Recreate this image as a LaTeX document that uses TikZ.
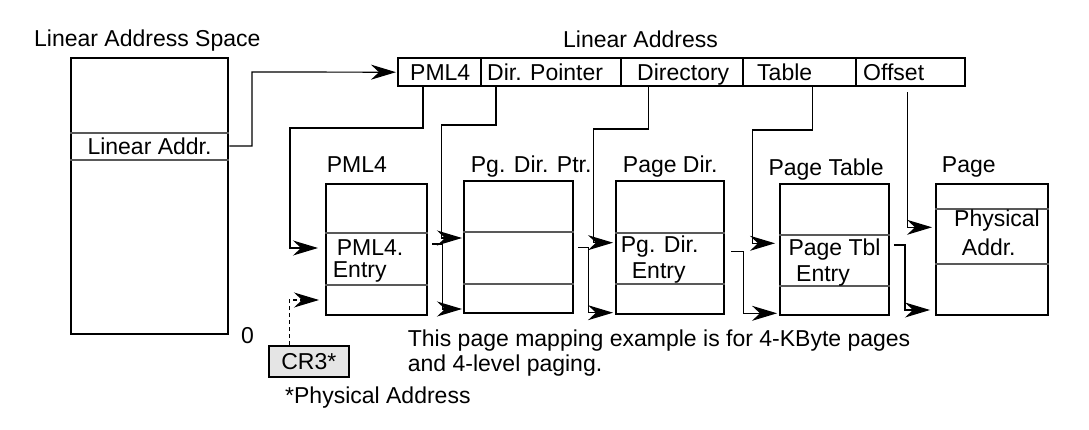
\documentclass[tikz,border=0pt]{standalone}
\usepackage{fontspec}
\setmainfont{Liberation Sans}
\usetikzlibrary{arrows.meta}
\newcommand{\tblstripe}[2]{\draw[stripe] ([yshift=-#2pt]#1.north west) -- ([yshift=-#2pt]#1.north east);}
\begin{document}
\begin{tikzpicture}[x=1pt,y=-1pt,
  txt/.style={font=\fontsize{23}{27}\selectfont, inner sep=0, anchor=base west},
  tbl/.style={draw, line width=2.4pt, inner sep=0, anchor=north west},
  stripe/.style={line width=1.5pt, draw=black!65},
  conn/.style={line width=1.2pt},
  arr/.style={conn, -{Stealth[length=25pt,width=15pt,inset=8pt]}, shorten >=3pt},
]
\path[use as bounding box] (0,0) rectangle (1089,430);

% Linear address space
\node[tbl, minimum width=157pt, minimum height=276pt] (las) at (70,57) {};
\node[txt] (lastitle) at (34,47) {Linear Address Space};
\tblstripe{las}{76}
\tblstripe{las}{103}
\node[txt] (laddr) at (87.3,155) {Linear Addr.};
\node[txt] (zero) at (241,343) {0};

% Linear address bar
\node[txt] (bartitle) at (563,48) {Linear Address};
\node[tbl, minimum width=83pt, minimum height=28pt] (f1) at (397,57) {};
\node[tbl, minimum width=140pt, minimum height=28pt] (f2) at (480,57) {};
\node[tbl, minimum width=122pt, minimum height=28pt] (f3) at (620,57) {};
\node[tbl, minimum width=113pt, minimum height=28pt] (f4) at (742,57) {};
\node[tbl, minimum width=109pt, minimum height=28pt] (f5) at (855,57) {};
\node[txt] (t1) at (410,80.5) {PML4};
\node[txt] (t2) at (487,80.5) {Dir. Pointer};
\node[txt] (t3) at (637,80.5) {Directory};
\node[txt] (t4) at (757,80.5) {Table};
\node[txt] (t5) at (863,80.5) {Offset};

% Tables
\node[tbl, minimum width=101pt, minimum height=131pt] (pml4) at (325,183) {};
\tblstripe{pml4}{50}
\tblstripe{pml4}{102}
\node[txt] at (326.7,172.3) {PML4};
\node[txt] at (336.7,255) {PML4.};
\node[txt] at (332.7,277.7) {Entry};

\node[tbl, minimum width=109pt, minimum height=132pt] (pdp) at (463,180) {};
\tblstripe{pdp}{52}
\tblstripe{pdp}{104}
\node[txt] at (470.7,172.3) {Pg. Dir. Ptr.};

\node[tbl, minimum width=108pt, minimum height=133pt] (pd) at (615,180) {};
\tblstripe{pd}{53}
\tblstripe{pd}{104}
\node[txt] at (622.7,172.3) {Page Dir.};
\node[txt] at (620.7,252.7) {Pg. Dir.};
\node[txt] at (631.7,278.3) {Entry};

\node[tbl, minimum width=109pt, minimum height=131pt] (pt) at (779,183) {};
\tblstripe{pt}{52}
\tblstripe{pt}{103}
\node[txt] at (768.3,176) {Page Table};
\node[txt] at (788.3,255.7) {Page Tbl};
\node[txt] at (796,281.7) {Entry};

\node[tbl, minimum width=112pt, minimum height=131pt] (pg) at (935,183) {};
\tblstripe{pg}{26}
\tblstripe{pg}{81}
\node[txt] at (941.7,172.3) {Page};
\node[txt] at (954,226.7) {Physical};
\node[txt] at (961.7,255) {Addr.};

% CR3
\node[tbl, line width=1.7pt, fill=black!10, minimum width=80pt, minimum height=31pt,
      font=\fontsize{23}{27}\selectfont] (cr3) at (268,345) {CR3*};
\node[txt] at (285,403.3) {*Physical Address};
\node[txt] at (407.7,346.7) {This page mapping example is for 4-KByte pages};
\node[txt] at (407.7,371.7) {and 4-level paging.};

% Connectors
\draw[arr, shorten >=1pt] ([yshift=-89pt]las.north east) -| (252,72) -- (f1.west);
\draw[arr, shorten >=7pt] (f1.south west) ++(26,0) |- (290,128) |- (pml4.west |- 0,248);
\draw[arr, shorten >=1pt] (f2.south west) ++(16,0) |- (441.7,125) |- (pdp.west |- 0,238);
\draw[arr, shorten >=2pt] (f3.south west) ++(28.3,0) |- (593.3,129) |- (pd.west |- 0,242.7);
\draw[arr, shorten >=4pt] (f4.south west) ++(70.7,0) |- (752.3,130) |- (pt.west |- 0,243.3);
\draw[arr, shorten >=3pt] (f5.south west) ++(52.7,5) |- (pg.west |- 0,227.3);

\draw[arr, shorten >=1pt] (pml4.east |- 0,244) ++(4,0) -- ++(10,0) |- (pdp.west |- 0,309);
\draw[arr, shorten >=2pt] (pdp.east |- 0,247.7) ++(4,0) -- ++(10,0) |- (pd.west |- 0,312.7);
\draw[arr, shorten >=2pt] (pd.east |- 0,251.7) ++(6,0) -- ++(12,0) |- (pt.west |- 0,313.3);
\draw[arr, shorten >=5pt] (pt.east |- 0,245) ++(3.5,0) -- ++(11,0) |- (pg.west |- 0,310);

\draw[arr, dash pattern=on 4pt off 3pt, shorten >=6pt] (cr3.north west) ++(21.3,0) |- (pml4.west |- 0,300);
\end{tikzpicture}
\end{document}
